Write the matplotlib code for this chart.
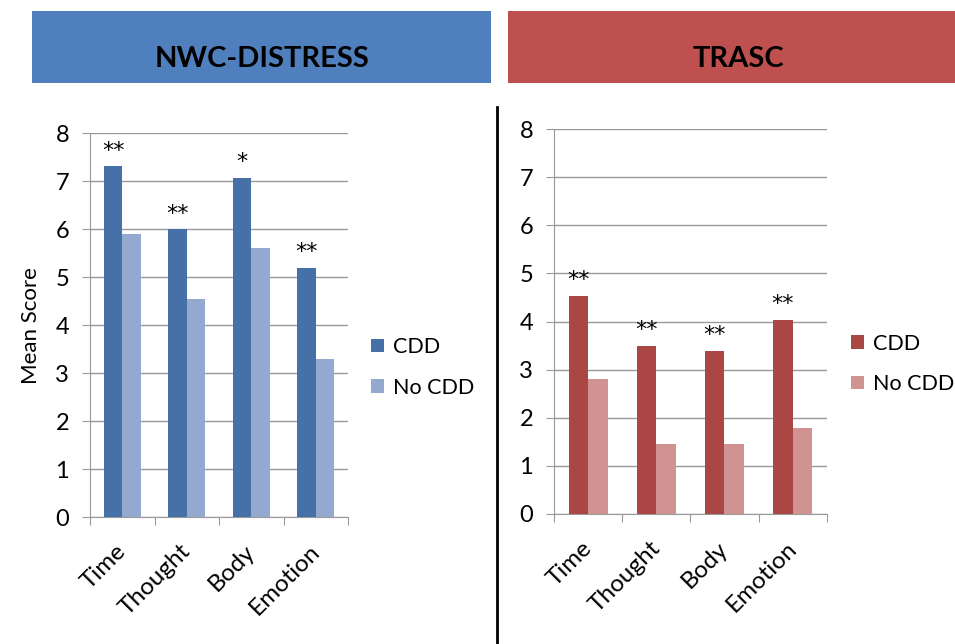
"""
Mean scores by domain, CDD vs no CDD, for NWC-DISTRESS and TRASC.
"""
import matplotlib
matplotlib.use("Agg")
import matplotlib.pyplot as plt
import numpy as np
from matplotlib.lines import Line2D
from matplotlib.patches import Rectangle
from matplotlib.transforms import ScaledTranslation

plt.rcParams["font.family"] = ["Lato", "DejaVu Sans"]

categories = ["Time", "Thought", "Body", "Emotion"]
series_names = ["CDD", "No CDD"]

nwc_cdd = [7.31, 6.0, 7.07, 5.2]
nwc_no_cdd = [5.9, 4.54, 5.6, 3.3]
nwc_sig = ["**", "**", "*", "**"]

trasc_cdd = [4.53, 3.5, 3.39, 4.04]
trasc_no_cdd = [2.8, 1.45, 1.45, 1.79]
trasc_sig = ["**", "**", "**", "**"]

W, H = 955, 644
fig = plt.figure(figsize=(W / 100, H / 100), dpi=100)


def fx(px):
    return px / W


def fy(py):
    return 1 - py / H


def draw_panel(rect, cdd, no_cdd, sig, colors, ylabel=None):
    ax = fig.add_axes(rect)
    x = np.arange(len(categories))
    bw = 0.285
    ax.bar(x - bw / 2, cdd, bw, color=colors[0], label=series_names[0], zorder=3)
    ax.bar(x + bw / 2, no_cdd, bw, color=colors[1], label=series_names[1], zorder=3)

    for xi, val, s in zip(x, cdd, sig):
        ax.annotate(s, (xi - bw / 2, val), xytext=(0, 4), textcoords="offset points",
                    ha="center", va="bottom", fontsize=16, family="DejaVu Sans")

    ax.set_xlim(-0.5, len(categories) - 0.5)
    ax.set_ylim(0, 8)
    ax.set_yticks(range(0, 9))
    ax.yaxis.grid(True, color="#999999", linewidth=1, zorder=0)
    ax.tick_params(axis="y", length=6, color="#999999", labelsize=17, pad=9)

    # category separators as tick marks on the bottom axis
    ax.set_xticks(np.arange(-0.5, len(categories), 1))
    ax.set_xticklabels([])
    ax.set_xticks(x, minor=True)
    ax.set_xticklabels(categories, minor=True, rotation=45, ha="right",
                       rotation_mode="anchor", fontsize=17.5)
    ax.tick_params(axis="x", which="major", length=6, color="#999999")
    ax.tick_params(axis="x", which="minor", length=0, pad=17)
    shift = ScaledTranslation(-5 / 72, 0, fig.dpi_scale_trans)
    for lbl in ax.get_xticklabels(minor=True):
        lbl.set_transform(lbl.get_transform() + shift)

    for side in ["top", "right"]:
        ax.spines[side].set_visible(False)
    for side in ["left", "bottom"]:
        ax.spines[side].set_color("#999999")

    if ylabel:
        ax.set_ylabel(ylabel, fontsize=16, labelpad=10)

    ax.legend(loc="center left", bbox_to_anchor=(1.09, 0.39), frameon=False,
              fontsize=15.5, handlelength=0.6, handleheight=0.6,
              handletextpad=0.4, labelspacing=0.95, borderpad=0, borderaxespad=0)
    return ax


draw_panel([fx(90), fy(517), fx(258), (517 - 133.3) / H], nwc_cdd, nwc_no_cdd, nwc_sig,
           ["#4571a8", "#93a9cf"], ylabel="Mean Score")
draw_panel([fx(554), fy(514), fx(272.7), (514 - 129) / H], trasc_cdd, trasc_no_cdd, trasc_sig,
           ["#aa4643", "#d09392"])

# header boxes
fig.add_artist(Rectangle((fx(32), fy(83)), fx(459), 72 / H, transform=fig.transFigure,
                         facecolor="#4f7fbc", edgecolor="none"))
fig.add_artist(Rectangle((fx(508), fy(83)), fx(447), 72 / H, transform=fig.transFigure,
                         facecolor="#be5150", edgecolor="none"))
fig.text(fx(262), fy(59), "NWC-DISTRESS", ha="center", va="center",
         fontsize=21, fontweight="bold")
fig.text(fx(738), fy(59), "TRASC", ha="center", va="center",
         fontsize=21, fontweight="bold")

# vertical divider
fig.add_artist(Line2D([fx(497), fx(497)], [fy(107), 0], color="black", linewidth=2))

fig.savefig("out.png", dpi=100)
